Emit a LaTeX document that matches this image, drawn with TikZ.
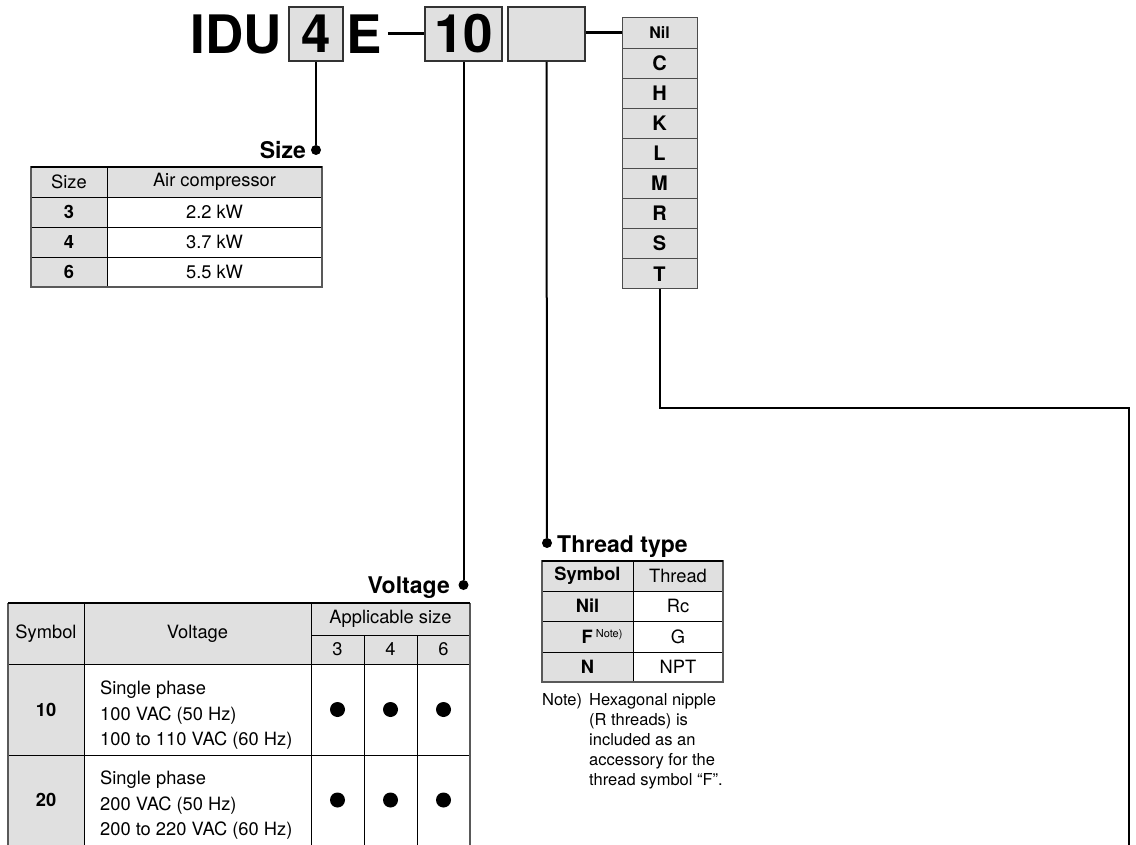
\documentclass[tikz,border=0pt]{standalone}
\usepackage{fontspec}
\setmainfont{TeX Gyre Heros}

\definecolor{cellgray}{RGB}{224,224,224}
\newcommand{\codefont}{\fontsize{53}{53}\selectfont\bfseries}
\newcommand{\labfont}{\fontsize{23}{23}\selectfont\bfseries}
\newcommand{\tabfont}{\fontsize{18.3}{25.5}\selectfont}
\newcommand{\notefont}{\fontsize{16.5}{20}\selectfont}

\tikzset{
  codebox/.style={draw=black!80,line width=2pt,fill=cellgray,inner sep=0pt,minimum height=54pt},
  optcell/.style={draw=black!70,line width=1pt,fill=cellgray,inner sep=0pt,
    minimum width=75pt,minimum height=30.1pt,font=\fontsize{20}{20}\selectfont\bfseries},
  link/.style={line width=2pt},
  dotpt/.style={circle,fill=black,inner sep=0pt,minimum size=10pt},
  grid/.style={line width=0.8pt},
  frame/.style={line width=1.2pt,draw=black!65},
  cell/.style={inner sep=0pt,font=\tabfont},
  label/.style={inner sep=0pt,font=\labfont},
}

\begin{document}
\begin{tikzpicture}[x=1pt,y=-1pt]
\useasboundingbox (0,0) rectangle (1136,845);

% model code
\node[anchor=base east,inner sep=0pt] (idu) at (282,54) {\codefont IDU};
\node[codebox,minimum width=54pt] (sz) at (316,34) {\codefont 4};
\node[anchor=base west,inner sep=0pt] (e) at (346,54) {\codefont E};
\node[codebox,minimum width=77pt] (volt) at (463.5,34) {\codefont 10};
\node[codebox,minimum width=77pt] (thr) at (546.5,34) {};
\coordinate (dashL) at ([xshift=6pt]e.east);
\draw[line width=3pt] (dashL |- volt.west) -- (volt.west);

% option column
\node[optcell,font=\fontsize{16}{16}\selectfont\bfseries] (opt1) at (659.5,33) {Nil};
\node[optcell] (opt2) at (659.5,63.1) {C};
\node[optcell] (opt3) at (659.5,93.2) {H};
\node[optcell] (opt4) at (659.5,123.3) {K};
\node[optcell] (opt5) at (659.5,153.4) {L};
\node[optcell] (opt6) at (659.5,183.5) {M};
\node[optcell] (opt7) at (659.5,213.6) {R};
\node[optcell] (opt8) at (659.5,243.7) {S};
\node[optcell] (opt9) at (659.5,273.8) {T};
\draw[line width=3pt] (thr.east |- opt1.west) -- (opt1.west);

% size
\node[dotpt] (dsz) at (316,150) {};
\draw[link] (sz.south) -- (dsz);
\node[label,anchor=base east] (lsz) at (306,159) {Size};
\fill[cellgray] (31,167) rectangle (322,197);
\fill[cellgray] (31,197) rectangle (107,287);
\draw[grid] (31,197) -- (322,197) (31,227) -- (322,227) (31,257) -- (322,257);
\draw[grid] (107,167) -- (107,287);
\draw[frame] (31,167) rectangle (322,287);
\draw[line width=2pt] (31,167) -- (322,167);
\node[cell] (sh1) at (69,182) {Size};
\node[cell] (sh2) at (214.5,182) {Air compressor};
\node[cell,font=\tabfont\bfseries] (s31) at (69,212) {3};
\node[cell] (s32) at (214.5,212) {2.2 kW};
\node[cell,font=\tabfont\bfseries] (s41) at (69,242) {4};
\node[cell] (s42) at (214.5,242) {3.7 kW};
\node[cell,font=\tabfont\bfseries] (s61) at (69,272) {6};
\node[cell] (s62) at (214.5,272) {5.5 kW};

% voltage
\node[dotpt] (dvo) at (463.5,585) {};
\draw[link] (volt.south) -- (dvo);
\node[label,anchor=base east] (lvo) at (450,593) {Voltage};
\fill[cellgray] (8,603) rectangle (470,664);
\fill[cellgray] (8,664) rectangle (84,845);
\draw[grid] (311,635) -- (470,635) (8,664) -- (470,664) (8,755) -- (470,755);
\draw[grid] (84,603) -- (84,845) (311,603) -- (311,845) (364,635) -- (364,845) (417,635) -- (417,845);
\draw[frame] (8,845) -- (8,603) (470,603) -- (470,845);
\draw[line width=2pt] (8,603) -- (470,603);
\node[cell] (vh1) at (46,633.5) {Symbol};
\node[cell] (vh2) at (197.5,633.5) {Voltage};
\node[cell] (vh3) at (390.5,619) {Applicable size};
\node[cell] (vh4) at (337.5,649.5) {3};
\node[cell] (vh5) at (390.5,649.5) {4};
\node[cell] (vh6) at (443.5,649.5) {6};
\node[cell,font=\tabfont\bfseries] (v10) at (46,709.5) {10};
\node[cell,anchor=north west,align=left] (v10t) at (100,681) {Single phase\\100 VAC (50 Hz)\\100 to 110 VAC (60 Hz)};
\node[dotpt,minimum size=15pt] (v10a) at (337.5,709.5) {};
\node[dotpt,minimum size=15pt] (v10b) at (390.5,709.5) {};
\node[dotpt,minimum size=15pt] (v10c) at (443.5,709.5) {};
\node[cell,font=\tabfont\bfseries] (v20) at (46,800) {20};
\node[cell,anchor=north west,align=left] (v20t) at (100,771) {Single phase\\200 VAC (50 Hz)\\200 to 220 VAC (60 Hz)};
\node[dotpt,minimum size=15pt] (v20a) at (337.5,800) {};
\node[dotpt,minimum size=15pt] (v20b) at (390.5,800) {};
\node[dotpt,minimum size=15pt] (v20c) at (443.5,800) {};

% thread type
\node[dotpt] (dth) at (547,543) {};
\draw[link] (thr.south) -- (dth);
\node[label,anchor=base west] (lth) at (557,552) {Thread type};
\fill[cellgray] (542,561) rectangle (723,591);
\fill[cellgray] (542,591) rectangle (633,682);
\draw[grid] (542,591) -- (723,591) (542,621) -- (723,621) (542,652) -- (723,652);
\draw[grid] (633,561) -- (633,682);
\draw[frame] (542,561) rectangle (723,682);
\draw[line width=2pt] (542,561) -- (723,561);
\node[cell,font=\tabfont\bfseries] (th1) at (587.5,576) {Symbol};
\node[cell] (th2) at (678,576) {Thread};
\node[cell,font=\tabfont\bfseries] (tn1) at (587.5,606) {Nil};
\node[cell] (tn2) at (678,606) {Rc};
\node[cell] (tf1) at (602,636.5) {\textbf{F}\,\raisebox{6pt}{\fontsize{11}{11}\selectfont Note)}};
\node[cell] (tf2) at (678,636.5) {G};
\node[cell,font=\tabfont\bfseries] (tp1) at (587.5,667) {N};
\node[cell] (tp2) at (678,667) {NPT};
\node[inner sep=0pt,anchor=base west,font=\notefont] (nt) at (542,705) {Note)};
\node[inner sep=0pt,anchor=north west,align=left,font=\notefont] (ntx) at (589,693) {Hexagonal nipple\\(R threads) is\\included as an\\accessory for the\\thread symbol “F”.};

% connector to the right
\coordinate (bend) at (1129,408);
\coordinate (tail) at (1129,845);
\draw[link] (opt9.south) |- (bend) -- (tail);
\end{tikzpicture}
\end{document}
